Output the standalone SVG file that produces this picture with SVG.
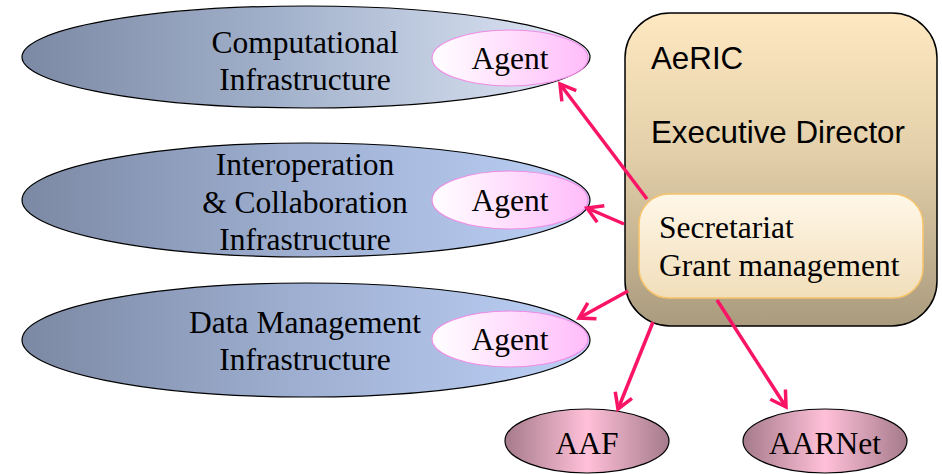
<svg xmlns="http://www.w3.org/2000/svg" width="942" height="474" viewBox="0 0 942 474">
<style>
.big{stroke:#000;stroke-width:1.2}
.agent{fill:url(#gAgent);stroke:#f08ce6;stroke-width:1.2}
.serif{font-family:"Liberation Serif","Times New Roman",serif;font-size:31.5px;fill:#000}
.sans{font-family:"Liberation Sans",Arial,sans-serif;font-size:31.3px;fill:#000}
.mid{text-anchor:middle}
.conn{stroke:#fa1466;stroke-width:3.5;fill:none;marker-end:url(#arr)}
.ext{fill:url(#gExt);stroke:#000;stroke-width:1.2}
</style>
<defs>
<linearGradient id="g1" x1="0" y1="0" x2="1" y2="0">
<stop offset="0" stop-color="#7c89a4"/>
<stop offset="0.45" stop-color="#a2b1cb"/>
<stop offset="1" stop-color="#e0e8f6"/>
</linearGradient>
<linearGradient id="g2" x1="0" y1="0" x2="1" y2="0">
<stop offset="0" stop-color="#7c89a4"/>
<stop offset="0.5" stop-color="#9fb0d2"/>
<stop offset="1" stop-color="#bcd0f6"/>
</linearGradient>
<linearGradient id="gAgent" x1="0" y1="0" x2="1" y2="0">
<stop offset="0" stop-color="#ffffff"/>
<stop offset="1" stop-color="#ffbcfa"/>
</linearGradient>
<linearGradient id="gExt" x1="0" y1="0" x2="1" y2="0">
<stop offset="0" stop-color="#a57a8b"/>
<stop offset="0.5" stop-color="#ffc0d8"/>
<stop offset="1" stop-color="#a57a8b"/>
</linearGradient>
<linearGradient id="gBox" x1="0" y1="0" x2="0" y2="1">
<stop offset="0" stop-color="#fde8c1"/>
<stop offset="0.45" stop-color="#e3cfa9"/>
<stop offset="1" stop-color="#aa9b7e"/>
</linearGradient>
<linearGradient id="gInner" x1="0" y1="0" x2="0" y2="1">
<stop offset="0" stop-color="#fff7e8"/>
<stop offset="1" stop-color="#f1deba"/>
</linearGradient>
<marker id="arr" viewBox="-20 -12 24 24" refX="0" refY="0" markerWidth="24" markerHeight="24" markerUnits="userSpaceOnUse" orient="auto" overflow="visible">
<path d="M -15 -9 L 0 0 L -15 9" fill="none" stroke="#fa1466" stroke-width="3.5" stroke-linejoin="miter"/>
</marker>
</defs>

<g id="comp-infra">
<ellipse class="big" cx="306" cy="57" rx="284" ry="51" fill="url(#g1)"/>
<text class="serif mid" x="305" y="53">Computational</text>
<text class="serif mid" x="305" y="90">Infrastructure</text>
</g>
<g id="agent1">
<ellipse class="agent" cx="510" cy="58" rx="78" ry="28"/>
<text class="serif mid" x="510" y="69">Agent</text>
</g>

<g id="interop-infra">
<ellipse class="big" cx="306" cy="200" rx="284" ry="57" fill="url(#g2)"/>
<text class="serif mid" x="305" y="175">Interoperation</text>
<text class="serif mid" x="305" y="213">&amp; Collaboration</text>
<text class="serif mid" x="305" y="250">Infrastructure</text>
</g>
<g id="agent2">
<ellipse class="agent" cx="510" cy="200" rx="78" ry="29"/>
<text class="serif mid" x="510" y="211">Agent</text>
</g>

<g id="data-infra">
<ellipse class="big" cx="306" cy="340" rx="284" ry="57" fill="url(#g2)"/>
<text class="serif mid" x="305" y="333">Data Management</text>
<text class="serif mid" x="305" y="370">Infrastructure</text>
</g>
<g id="agent3">
<ellipse class="agent" cx="510" cy="339" rx="78" ry="28"/>
<text class="serif mid" x="510" y="350">Agent</text>
</g>

<g id="aeric">
<rect x="625" y="13" width="312" height="313" rx="45" ry="45" fill="url(#gBox)" stroke="#000" stroke-width="1.5"/>
<text class="sans" x="651" y="69">AeRIC</text>
<text class="sans" x="651" y="143">Executive Director</text>
</g>
<g id="secretariat">
<rect x="639" y="194" width="284" height="104" rx="30" ry="30" fill="url(#gInner)" stroke="#f7c46a" stroke-width="1.5"/>
<text class="serif" x="659" y="238">Secretariat</text>
<text class="serif" x="659" y="276">Grant management</text>
</g>

<g id="aaf">
<ellipse class="ext" cx="587" cy="441" rx="82" ry="32"/>
<text class="serif mid" x="587" y="454">AAF</text>
</g>
<g id="aarnet">
<ellipse class="ext" cx="825" cy="441" rx="82" ry="32"/>
<text class="serif mid" x="825" y="454">AARNet</text>
</g>

<g id="connectors">
<line class="conn" x1="647" y1="199" x2="560" y2="84"/>
<line class="conn" x1="624" y1="224" x2="587" y2="208"/>
<line class="conn" x1="628" y1="291" x2="579" y2="318"/>
<line class="conn" x1="653" y1="322" x2="618" y2="409"/>
<line class="conn" x1="717" y1="300" x2="786" y2="407"/>
</g>
</svg>
